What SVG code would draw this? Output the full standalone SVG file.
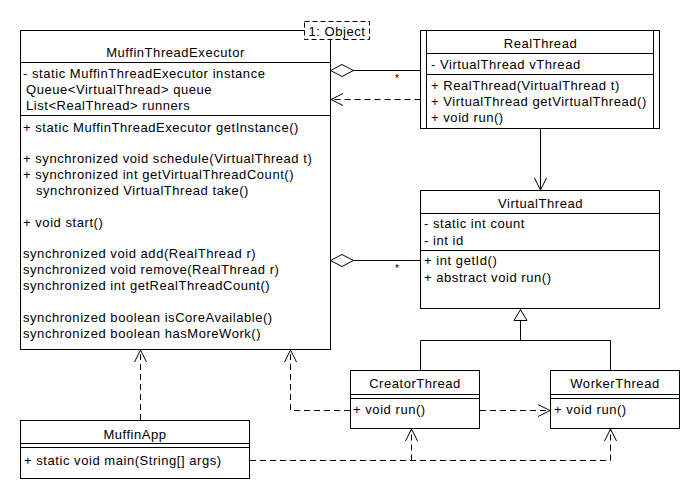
<svg xmlns="http://www.w3.org/2000/svg" width="700" height="500" viewBox="0 0 700 500">
<style>
text{font-family:"Liberation Sans",Arial,sans-serif;font-size:13px;letter-spacing:0.55px;fill:#000}
.c{text-anchor:middle}
.box{fill:#fff;stroke:#000;stroke-width:1}
.ln{stroke:#000;stroke-width:1;fill:none}
.d{stroke:#000;stroke-width:1;fill:none;stroke-dasharray:6,4}
.star{font-size:10px;letter-spacing:0}
</style>
<defs>
<marker id="open" markerUnits="userSpaceOnUse" markerWidth="14" markerHeight="14" refX="12" refY="6" orient="auto" overflow="visible">
<path d="M0,0 L12,6 L0,12" fill="none" stroke="#000" stroke-width="1" stroke-dasharray="none"/>
</marker>
<marker id="diamond" markerUnits="userSpaceOnUse" markerWidth="24" markerHeight="14" refX="0" refY="6" orient="auto" overflow="visible">
<path d="M0,6 L11.5,0 L23,6 L11.5,12 Z" fill="#fff" stroke="#000" stroke-width="1"/>
</marker>
<marker id="tri" markerUnits="userSpaceOnUse" markerWidth="14" markerHeight="14" refX="11" refY="6.5" orient="auto" overflow="visible">
<path d="M0,0 L11,6.5 L0,13 Z" fill="#fff" stroke="#000" stroke-width="1"/>
</marker>
</defs>
<rect width="700" height="500" fill="#fff"/>

<g id="connectors">
<line class="ln" x1="330.5" y1="70.5" x2="420.5" y2="70.5" marker-start="url(#diamond)"/>
<text class="star" x="395" y="82">*</text>
<line class="d" x1="420.5" y1="99.5" x2="331" y2="99.5" marker-end="url(#open)"/>
<line class="ln" x1="540.5" y1="129" x2="540.5" y2="190" marker-end="url(#open)"/>
<line class="ln" x1="330.5" y1="260.5" x2="420.5" y2="260.5" marker-start="url(#diamond)"/>
<text class="star" x="395" y="272">*</text>
<path class="ln" d="M420.5,370 V340.5 H610.5 V370"/>
<line class="ln" x1="520.5" y1="340.5" x2="520.5" y2="309.5" marker-end="url(#tri)"/>
<line class="d" x1="140.5" y1="420" x2="140.5" y2="350" marker-end="url(#open)"/>
<path class="d" d="M350,410.5 H290.5 V350" marker-end="url(#open)"/>
<line class="d" x1="480" y1="410.5" x2="550" y2="410.5" marker-end="url(#open)"/>
<path class="d" d="M250,460.5 H610.5"/>
<line class="d" x1="411.5" y1="460.5" x2="411.5" y2="429" marker-end="url(#open)"/>
<line class="d" x1="610.5" y1="460.5" x2="610.5" y2="429" marker-end="url(#open)"/>
</g>

<g id="MuffinThreadExecutor">
<rect class="box" x="20.5" y="30.5" width="310" height="319"/>
<line class="ln" x1="20.5" y1="62.5" x2="330.5" y2="62.5"/>
<line class="ln" x1="20.5" y1="115.5" x2="330.5" y2="115.5"/>
<text class="c" x="175.5" y="57">MuffinThreadExecutor</text>
<text x="23" y="77.5">- static MuffinThreadExecutor instance</text>
<text x="26" y="93.5">Queue&lt;VirtualThread&gt; queue</text>
<text x="26" y="110">List&lt;RealThread&gt; runners</text>
<text x="23" y="131.5">+ static MuffinThreadExecutor getInstance()</text>
<text x="23" y="163.2">+ synchronized void schedule(VirtualThread t)</text>
<text x="23" y="179.1">+ synchronized int getVirtualThreadCount()</text>
<text x="36" y="194.9">synchronized VirtualThread take()</text>
<text x="23" y="226.6">+ void start()</text>
<text x="23" y="258.4">synchronized void add(RealThread r)</text>
<text x="23" y="274.2">synchronized void remove(RealThread r)</text>
<text x="23" y="290.1">synchronized int getRealThreadCount()</text>
<text x="23" y="321.8">synchronized boolean isCoreAvailable()</text>
<text x="23" y="337.6">synchronized boolean hasMoreWork()</text>
</g>

<g id="ObjectNote">
<rect x="304.5" y="21.5" width="65" height="18" fill="#fff" stroke="#000" stroke-width="1" stroke-dasharray="5,3"/>
<text class="c" x="337" y="35.5">1: Object</text>
</g>

<g id="RealThread">
<rect class="box" x="420.5" y="30.5" width="239" height="98"/>
<line class="ln" x1="426.5" y1="30.5" x2="426.5" y2="128.5"/>
<line class="ln" x1="653.5" y1="30.5" x2="653.5" y2="128.5"/>
<line class="ln" x1="426.5" y1="53.5" x2="653.5" y2="53.5"/>
<line class="ln" x1="426.5" y1="74.5" x2="653.5" y2="74.5"/>
<text class="c" x="540.5" y="47.5">RealThread</text>
<text x="431" y="68.5">- VirtualThread vThread</text>
<text x="431" y="89.5">+ RealThread(VirtualThread t)</text>
<text x="431" y="106">+ VirtualThread getVirtualThread()</text>
<text x="431" y="121.8">+ void run()</text>
</g>

<g id="VirtualThread">
<rect class="box" x="420.5" y="190.5" width="239" height="118"/>
<line class="ln" x1="420.5" y1="213.5" x2="659.5" y2="213.5"/>
<line class="ln" x1="420.5" y1="250.5" x2="659.5" y2="250.5"/>
<text class="c" x="540.5" y="207.8">VirtualThread</text>
<text x="424" y="227.8">- static int count</text>
<text x="424" y="245">- int id</text>
<text x="424" y="265">+ int getId()</text>
<text x="424" y="281.5">+ abstract void run()</text>
</g>

<g id="CreatorThread">
<rect class="box" x="350.5" y="370.5" width="129" height="58"/>
<line class="ln" x1="350.5" y1="394.5" x2="479.5" y2="394.5"/>
<line class="ln" x1="350.5" y1="398.5" x2="479.5" y2="398.5"/>
<text class="c" x="415" y="387.5">CreatorThread</text>
<text x="353" y="414">+ void run()</text>
</g>

<g id="WorkerThread">
<rect class="box" x="550.5" y="370.5" width="129" height="58"/>
<line class="ln" x1="550.5" y1="394.5" x2="679.5" y2="394.5"/>
<line class="ln" x1="550.5" y1="398.5" x2="679.5" y2="398.5"/>
<text class="c" x="615" y="387.5">WorkerThread</text>
<text x="554" y="414">+ void run()</text>
</g>

<g id="MuffinApp">
<rect class="box" x="20.5" y="420.5" width="229" height="58"/>
<line class="ln" x1="20.5" y1="443.5" x2="249.5" y2="443.5"/>
<line class="ln" x1="20.5" y1="447.5" x2="249.5" y2="447.5"/>
<text class="c" x="135" y="438.5">MuffinApp</text>
<text x="24" y="464.5">+ static void main(String[] args)</text>
</g>
</svg>
